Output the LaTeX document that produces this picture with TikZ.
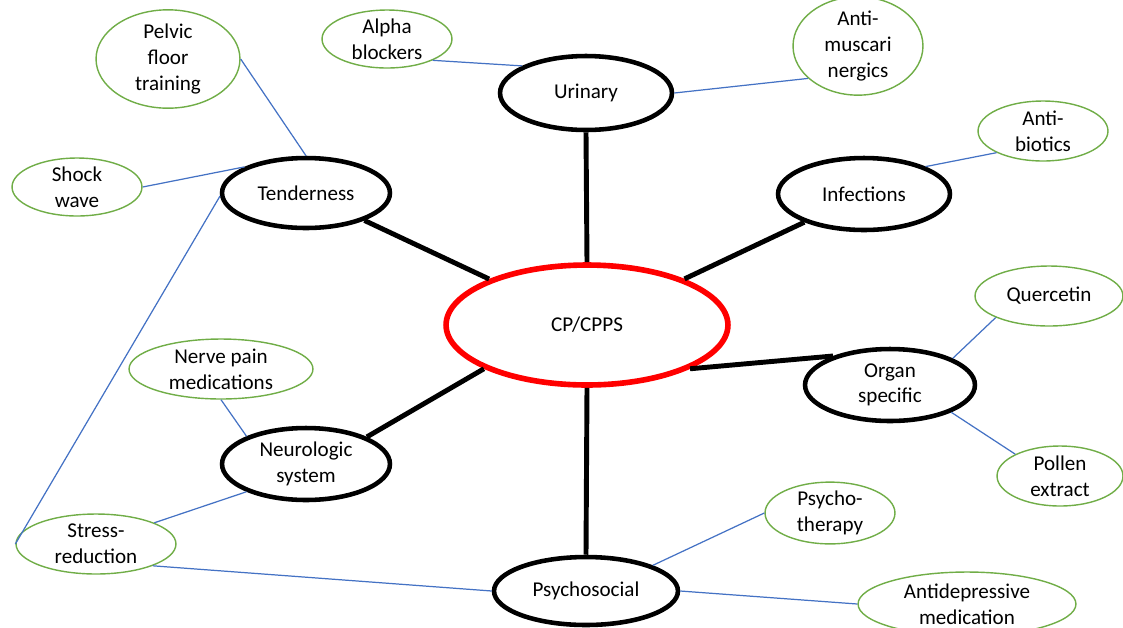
\documentclass[tikz,border=0pt]{standalone}
\usepackage{fontspec}
\setmainfont{Carlito}
\usepackage{tikz}
\usetikzlibrary{shapes.geometric}
\definecolor{leafgreen}{HTML}{70AD47}
\definecolor{linkblue}{HTML}{4472C4}
\tikzset{
    hub/.style={ellipse, draw=red, line width=3.2pt, inner sep=0pt, align=center},
    topic/.style={ellipse, draw=black, line width=2.6pt, inner sep=0pt, align=center},
    remedy/.style={ellipse, draw=leafgreen, line width=0.8pt, inner sep=0pt, align=center},
    spoke/.style={draw=black, line width=2.8pt},
    link/.style={draw=linkblue, line width=0.7pt},
    % size of an ellipse from its half axes, in pixels of the reference
    esize/.style 2 args={minimum width=#1*0.04cm, minimum height=#2*0.04cm}
}

\begin{document}
\begin{tikzpicture}[x=0.02cm, y=-0.02cm, font=\fontsize{12}{14.6}\selectfont]
    \useasboundingbox (0,0) rectangle (1123,627);

    % Centre
    \node[hub, esize={141}{60}] (cp) at (587,325) {CP/CPPS};

    % Main areas
    \node[topic, esize={86}{37}] (uri) at (586,93) {Urinary};
    \node[topic, esize={84}{35}] (tend) at (306,193) {Tenderness};
    \node[topic, esize={86}{36}] (infec) at (864,194) {Infections};
    \node[topic, esize={85}{36}] (organ) at (890,385) {Organ\\specific};
    \node[topic, esize={84}{36}] (neuro) at (306,464) {Neurologic\\system};
    \node[topic, esize={92}{34}] (psych) at (586,591) {Psychosocial};

    % Treatments
    \node[remedy, esize={65}{29}] (alpha) at (387,39) {Alpha\\blockers};
    \node[remedy, esize={65}{41}] (antimusc) at (858,46) {Anti-\\muscari\\nergics};
    \node[remedy, esize={65}{30}] (antibio) at (1043,131) {Anti-\\biotics};
    \node[remedy, esize={72}{49}] (pelvic) at (168,59) {Pelvic\\floor\\training};
    \node[remedy, esize={65}{29}] (shock) at (77,187) {Shock\\wave};
    \node[remedy, esize={74}{30}] (querc) at (1049,296) {Quercetin};
    \node[remedy, esize={63}{30}] (pollen) at (1060,476) {Pollen\\extract};
    \node[remedy, esize={92}{30}] (nerve) at (221,369) {Nerve pain\\medications};
    \node[remedy, esize={80}{30}] (stress) at (96,544) {Stress-\\reduction};
    \node[remedy, esize={65}{30}] (psychther) at (830,513) {Psycho-\\therapy};
    \node[remedy, esize={109}{32}] (antidep) at (967,604) {Antidepressive\\medication};

    % Spokes from the centre
    \draw[spoke] (cp.north) -- (uri.south);
    \draw[spoke] (cp) -- (tend);
    \draw[spoke] (cp) -- (infec);
    \draw[spoke] (cp.-23) -- (organ.153);
    \draw[spoke] (cp.203) -- (neuro.24);
    \draw[spoke] (cp.south) -- (psych.north);

    % Links to treatments
    \draw[link] (alpha.-25) -- (uri.157);
    \draw[link] (uri.east) -- (antimusc.213);
    \draw[link] (infec.24) -- (antibio.205);
    \draw[link] (pelvic.east) -- (tend.north);
    \draw[link] (shock.east) -- (tend.157);
    \draw[link] (tend.182) -- (stress.180);
    \draw[link] (nerve.south) -- (neuro.155);
    \draw[link] (stress.20) -- (neuro.205);
    \draw[link] (stress.-21) -- (psych.west);
    \draw[link] (psych.21) -- (psychther.west);
    \draw[link] (psych.east) -- (antidep.west);
    \draw[link] (organ.23) -- (querc.202);
    \draw[link] (organ.-24) -- (pollen.154);
\end{tikzpicture}
\end{document}
